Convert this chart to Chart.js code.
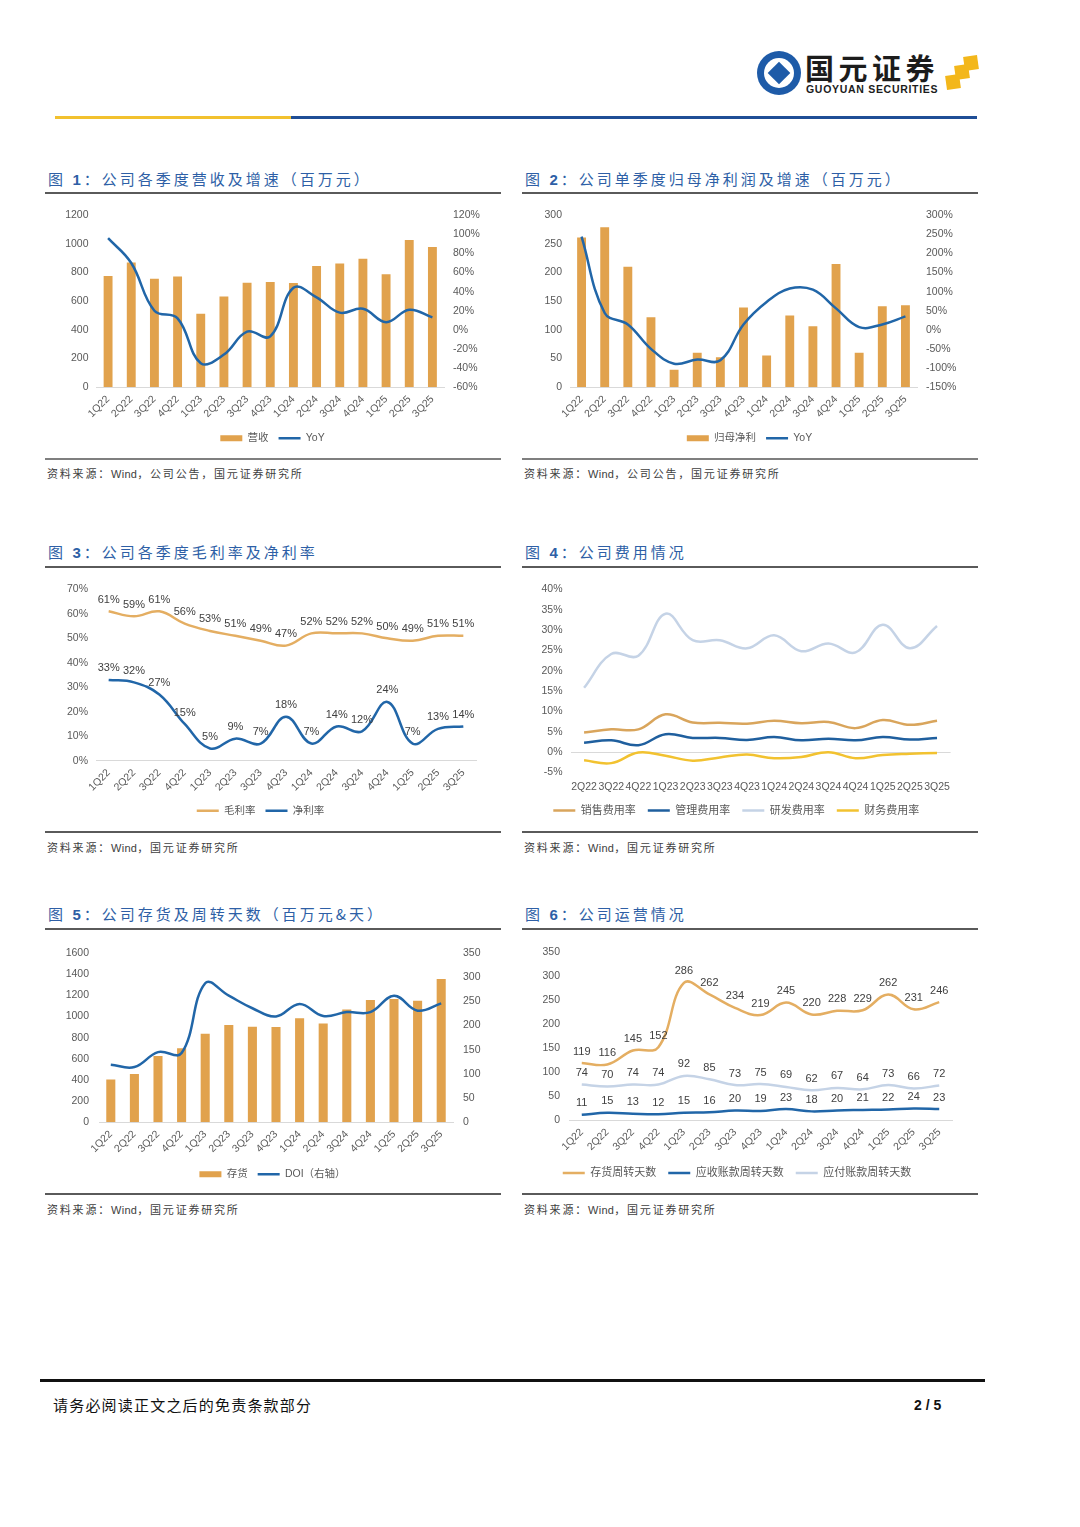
<!DOCTYPE html>
<html><head><meta charset="utf-8">
<script src="https://cdn.jsdelivr.net/npm/chart.js@4.4.1/dist/chart.umd.min.js"></script>
<style>
html,body{margin:0;padding:0;background:#fff;}
body{width:1080px;height:1527px;position:relative;overflow:hidden;font-family:"Liberation Sans","Noto Sans CJK SC",sans-serif;}
.abs{position:absolute;}
.title{position:absolute;font-family:"Noto Sans CJK SC",sans-serif;font-size:15px;color:#2E5FA6;letter-spacing:3px;white-space:nowrap;line-height:18px;}
.title b{font-family:"Liberation Sans",sans-serif;font-weight:bold;}
.rule{position:absolute;height:2px;background:#5a5a5a;}
.rule2{position:absolute;height:2px;background:#7f7f7f;}
.src{position:absolute;font-family:"Noto Sans CJK SC",sans-serif;font-size:11px;color:#404040;letter-spacing:1.8px;white-space:nowrap;line-height:14px;}
.src span{font-family:"Liberation Sans",sans-serif;letter-spacing:0.3px;}
.box{position:absolute;width:455px;height:255px;}
</style></head><body>

<!-- header logo -->
<div class="abs" style="left:757px;top:51px;width:44px;height:44px;border-radius:50%;background:#1E5BA8;"></div>
<div class="abs" style="left:764px;top:58px;width:30px;height:30px;border-radius:50%;background:#fff;"></div>
<div class="abs" style="left:771px;top:65px;width:16px;height:16px;background:#1E5BA8;transform:rotate(45deg);"></div>
<div class="abs" style="left:805px;top:50px;font-family:'Noto Sans CJK SC';font-weight:bold;font-size:29px;line-height:34px;color:#1c1c1c;letter-spacing:4.5px;white-space:nowrap;">国元证券</div>
<div class="abs" style="left:806px;top:83px;font-family:'Liberation Sans';font-weight:bold;font-size:10.5px;line-height:12px;color:#1c1c1c;letter-spacing:0.7px;white-space:nowrap;">GUOYUAN SECURITIES</div>
<div class="abs" style="left:946px;top:75px;width:14px;height:14px;background:#F3B71B;transform:rotate(-8deg);"></div>
<div class="abs" style="left:955px;top:65px;width:14px;height:14px;background:#F3B71B;transform:rotate(-8deg);"></div>
<div class="abs" style="left:964px;top:56px;width:14px;height:14px;background:#F3B71B;transform:rotate(-8deg);"></div>
<div class="abs" style="left:55px;top:116px;width:236px;height:3px;background:#F2C12E;"></div>
<div class="abs" style="left:291px;top:116px;width:686px;height:3px;background:#1F4E96;"></div>

<!-- row 1 -->
<div class="title" style="left:48px;top:170px;">图 <b>1</b>：公司各季度营收及增速（百万元）</div>
<div class="rule" style="left:45px;top:192px;width:456px;"></div>
<div class="box" style="left:45px;top:200px;"><canvas id="c1"></canvas></div>
<div class="rule2" style="left:45px;top:458px;width:456px;"></div>
<div class="src" style="left:47px;top:466px;">资料来源：<span>Wind</span>，公司公告，国元证券研究所</div>

<div class="title" style="left:525px;top:170px;">图 <b>2</b>：公司单季度归母净利润及增速（百万元）</div>
<div class="rule" style="left:522px;top:192px;width:456px;"></div>
<div class="box" style="left:522px;top:200px;"><canvas id="c2"></canvas></div>
<div class="rule2" style="left:522px;top:458px;width:456px;"></div>
<div class="src" style="left:524px;top:466px;">资料来源：<span>Wind</span>，公司公告，国元证券研究所</div>

<!-- row 2 -->
<div class="title" style="left:48px;top:543px;">图 <b>3</b>：公司各季度毛利率及净利率</div>
<div class="rule" style="left:45px;top:566px;width:456px;"></div>
<div class="box" style="left:45px;top:575px;"><canvas id="c3"></canvas></div>
<div class="rule" style="left:45px;top:831px;width:456px;"></div>
<div class="src" style="left:47px;top:840px;">资料来源：<span>Wind</span>，国元证券研究所</div>

<div class="title" style="left:525px;top:543px;">图 <b>4</b>：公司费用情况</div>
<div class="rule" style="left:522px;top:566px;width:456px;"></div>
<div class="box" style="left:522px;top:575px;"><canvas id="c4"></canvas></div>
<div class="rule" style="left:522px;top:831px;width:456px;"></div>
<div class="src" style="left:524px;top:840px;">资料来源：<span>Wind</span>，国元证券研究所</div>

<!-- row 3 -->
<div class="title" style="left:48px;top:905px;">图 <b>5</b>：公司存货及周转天数（百万元&amp;天）</div>
<div class="rule" style="left:45px;top:928px;width:456px;"></div>
<div class="box" style="left:45px;top:937px;"><canvas id="c5"></canvas></div>
<div class="rule" style="left:45px;top:1193px;width:456px;"></div>
<div class="src" style="left:47px;top:1202px;">资料来源：<span>Wind</span>，国元证券研究所</div>

<div class="title" style="left:525px;top:905px;">图 <b>6</b>：公司运营情况</div>
<div class="rule" style="left:522px;top:928px;width:456px;"></div>
<div class="box" style="left:522px;top:937px;"><canvas id="c6"></canvas></div>
<div class="rule" style="left:522px;top:1193px;width:456px;"></div>
<div class="src" style="left:524px;top:1202px;">资料来源：<span>Wind</span>，国元证券研究所</div>

<!-- footer -->
<div class="abs" style="left:40px;top:1379px;width:945px;height:3px;background:#111;"></div>
<div class="abs" style="left:53px;top:1396px;font-family:'Noto Sans CJK SC';font-size:15px;line-height:18px;color:#111;letter-spacing:1.2px;white-space:nowrap;">请务必阅读正文之后的免责条款部分</div>
<div class="abs" style="left:914px;top:1397px;font-family:'Liberation Sans';font-weight:bold;font-size:14px;line-height:16px;color:#111;white-space:nowrap;">2 / 5</div>

<script>
// ---------- data ----------
const quarters = ['1Q22','2Q22','3Q22','4Q22','1Q23','2Q23','3Q23','4Q23','1Q24','2Q24','3Q24','4Q24','1Q25','2Q25','3Q25'];
const revenue = [775, 870, 756, 772, 512, 633, 729, 733, 727, 845, 863, 897, 788, 1027, 979];
const revenueYoY = [96, 70, 20, 12, -35, -26, -2, -7, 44, 34, 18, 22, 8, 21, 13];
const netProfit = [261, 279, 210, 122, 30, 60, 52, 139, 55, 125, 106, 215, 60, 141, 143];
const netProfitYoY = [244, 44, 14, -50, -89, -78, -80, 14, 73, 108, 105, 56, 7, 14, 35];
const grossMargin = [61, 59, 61, 56, 53, 51, 49, 47, 52, 52, 52, 50, 49, 51, 51];
const netMargin = [33, 32, 27, 15, 5, 9, 7, 18, 7, 14, 12, 24, 7, 13, 14];
const expQuarters = ['2Q22','3Q22','4Q22','1Q23','2Q23','3Q23','4Q23','1Q24','2Q24','3Q24','4Q24','1Q25','2Q25','3Q25'];
const sellingRate = [4.8, 5.6, 5.6, 9.3, 7.3, 7.2, 7.0, 7.7, 7.1, 7.4, 5.9, 7.9, 6.7, 7.7];
const adminRate = [2.3, 2.9, 1.7, 4.4, 3.5, 3.5, 3.0, 3.7, 2.9, 3.3, 2.9, 3.7, 3.1, 3.5];
const rdRate = [15.8, 24.1, 23.7, 34.0, 27.5, 27.5, 25.5, 28.7, 24.8, 26.7, 24.5, 31.3, 25.5, 31.0];
const financeRate = [-2.0, -2.7, -0.1, -0.9, -2.1, -1.3, -0.6, -1.5, -1.2, 0.0, -1.5, -0.7, -0.4, -0.2];
const inventory = [403, 455, 626, 699, 837, 919, 904, 901, 983, 934, 1066, 1157, 1166, 1151, 1356];
const doiDays = [119, 114, 145, 143, 288, 262, 236, 219, 245, 220, 228, 228, 262, 231, 246];
const inventoryDays = [119, 116, 145, 152, 286, 262, 234, 219, 245, 220, 228, 229, 262, 231, 246];
const receivableDays = [11, 15, 13, 12, 15, 16, 20, 19, 23, 18, 20, 21, 22, 24, 23];
const payableDays = [74, 70, 74, 74, 92, 85, 73, 75, 69, 62, 67, 64, 73, 66, 72];

// ---------- style ----------
const GOLD = '#E1A24D', BLUE = '#2166A8', LGOLD = '#E4AE62', LBLUE = '#C5D3E6', YEL = '#F2C230', DBLUE = '#1F5F9E';
Chart.defaults.font.family = '"Liberation Sans","Noto Sans CJK SC",sans-serif';
Chart.defaults.font.size = 10.5;
Chart.defaults.color = '#595959';
Chart.defaults.animation = false;

const pointLabels = {
  id: 'pointLabels',
  afterDatasetsDraw(chart) {
    const ctx = chart.ctx;
    ctx.save();
    ctx.font = '11px "Liberation Sans", sans-serif';
    ctx.fillStyle = '#404040';
    ctx.textAlign = 'center';
    ctx.textBaseline = 'bottom';
    chart.data.datasets.forEach((ds, di) => {
      if (!ds.showLabels) return;
      const meta = chart.getDatasetMeta(di);
      meta.data.forEach((pt, i) => {
        ctx.fillText(ds.data[i] + (ds.labelSuffix || ''), pt.x, pt.y - 6);
      });
    });
    ctx.restore();
  }
};

function w(n) { return s => { s.width = n; }; }
function h(n) { return s => { s.height = n; }; }
const legendOpts = (size) => ({
  position: 'bottom',
  labels: { usePointStyle: true, pointStyleWidth: 22, boxHeight: 6, padding: size ? 12 : 10, color: '#595959',
            font: { size: size || 10.5 }, sort: (a, b) => a.datasetIndex - b.datasetIndex }
});
function xRot(height) {
  return { grid: { display: false, drawTicks: false }, border: { display: true, color: '#d9d9d9' },
           ticks: { minRotation: 45, maxRotation: 45, autoSkip: false, padding: 6 }, afterFit: h(height) };
}
function lineDs(label, data, color, extra) {
  return Object.assign({ type: 'line', label, data, borderColor: color, backgroundColor: color, borderWidth: 2.5,
    pointRadius: 0, tension: 0.4, pointStyle: 'line', order: 0 }, extra || {});
}
function barDs(label, data, extra) {
  return Object.assign({ type: 'bar', label, data, backgroundColor: GOLD, pointStyle: 'rect',
    categoryPercentage: 0.8, barPercentage: 0.48, order: 1 }, extra || {});
}
const pct = v => v + '%';
const plain = v => String(v);

// Chart 1
new Chart(document.getElementById('c1'), {
  data: { labels: quarters, datasets: [ barDs('营收', revenue, { yAxisID: 'y' }), lineDs('YoY', revenueYoY, BLUE, { yAxisID: 'y1' }) ] },
  options: { responsive: true, maintainAspectRatio: false,
    layout: { padding: { top: 12, bottom: 1.5, left: 0, right: 0 } },
    plugins: { legend: legendOpts(), tooltip: { enabled: false } },
    scales: {
      x: xRot(36),
      y: { position: 'left', min: 0, max: 1200, ticks: { stepSize: 200, padding: 8, callback: plain }, grid: { display: false, drawTicks: false }, border: { display: false }, afterFit: w(51.5) },
      y1: { position: 'right', min: -60, max: 120, ticks: { stepSize: 20, padding: 9, callback: pct }, grid: { display: false, drawTicks: false }, border: { display: false }, afterFit: w(56) }
    } }
});

// Chart 2
new Chart(document.getElementById('c2'), {
  data: { labels: quarters, datasets: [ barDs('归母净利', netProfit, { yAxisID: 'y' }), lineDs('YoY', netProfitYoY, BLUE, { yAxisID: 'y1' }) ] },
  options: { responsive: true, maintainAspectRatio: false,
    layout: { padding: { top: 12, bottom: 1.5, left: 0, right: 0 } },
    plugins: { legend: legendOpts(), tooltip: { enabled: false } },
    scales: {
      x: xRot(36),
      y: { position: 'left', min: 0, max: 300, ticks: { stepSize: 50, padding: 8, callback: plain }, grid: { display: false, drawTicks: false }, border: { display: false }, afterFit: w(48) },
      y1: { position: 'right', min: -150, max: 300, ticks: { stepSize: 50, padding: 9, callback: pct }, grid: { display: false, drawTicks: false }, border: { display: false }, afterFit: w(60) }
    } }
});

// Chart 3
new Chart(document.getElementById('c3'), {
  type: 'line',
  data: { labels: quarters, datasets: [
    lineDs('毛利率', grossMargin, LGOLD, { showLabels: true, labelSuffix: '%' }),
    lineDs('净利率', netMargin, BLUE, { showLabels: true, labelSuffix: '%' }) ] },
  options: { responsive: true, maintainAspectRatio: false,
    layout: { padding: { top: 10, bottom: 4, left: 0, right: 24 } },
    plugins: { legend: legendOpts(), tooltip: { enabled: false } },
    scales: {
      x: Object.assign(xRot(34.8), { offset: true }),
      y: { min: 0, max: 70, ticks: { stepSize: 10, padding: 8, callback: pct }, grid: { display: false, drawTicks: false }, border: { display: false }, afterFit: w(51) }
    } },
  plugins: [pointLabels]
});

// Chart 4
new Chart(document.getElementById('c4'), {
  type: 'line',
  data: { labels: expQuarters, datasets: [
    lineDs('销售费用率', sellingRate, '#D9A55C'),
    lineDs('管理费用率', adminRate, DBLUE),
    lineDs('研发费用率', rdRate, LBLUE),
    lineDs('财务费用率', financeRate, YEL) ] },
  options: { responsive: true, maintainAspectRatio: false,
    layout: { padding: { top: 10, bottom: 4, left: 0, right: 26.4 } },
    plugins: { legend: legendOpts(11), tooltip: { enabled: false } },
    scales: {
      x: { offset: true, grid: { display: false, drawTicks: false }, border: { display: false },
           ticks: { maxRotation: 0, minRotation: 0, autoSkip: false, padding: 8 }, afterFit: h(20.5) },
      y: { min: -5, max: 40, ticks: { stepSize: 5, padding: 8, callback: pct },
           grid: { drawTicks: false, color: c => c.tick && c.tick.value === 0 ? '#d9d9d9' : 'rgba(0,0,0,0)' },
           border: { display: false }, afterFit: w(48.5) }
    } }
});

// Chart 5
new Chart(document.getElementById('c5'), {
  data: { labels: quarters, datasets: [ barDs('存货', inventory, { yAxisID: 'y' }), lineDs('DOI（右轴）', doiDays, BLUE, { yAxisID: 'y1' }) ] },
  options: { responsive: true, maintainAspectRatio: false,
    layout: { padding: { top: 10.7, bottom: 2.5, left: 0, right: 0 } },
    plugins: { legend: legendOpts(), tooltip: { enabled: false } },
    scales: {
      x: xRot(37),
      y: { position: 'left', min: 0, max: 1600, ticks: { stepSize: 200, padding: 10, callback: plain }, grid: { display: false, drawTicks: false }, border: { display: false }, afterFit: w(54) },
      y1: { position: 'right', min: 0, max: 350, ticks: { stepSize: 50, padding: 10, callback: plain }, grid: { display: false, drawTicks: false }, border: { display: false }, afterFit: w(47) }
    } }
});

// Chart 6
new Chart(document.getElementById('c6'), {
  type: 'line',
  data: { labels: quarters, datasets: [
    lineDs('存货周转天数', inventoryDays, LGOLD, { showLabels: true }),
    lineDs('应收账款周转天数', receivableDays, BLUE, { showLabels: true }),
    lineDs('应付账款周转天数', payableDays, LBLUE, { showLabels: true }) ] },
  options: { responsive: true, maintainAspectRatio: false,
    layout: { padding: { top: 10.7, bottom: 3.5, left: 0, right: 25 } },
    plugins: { legend: legendOpts(11), tooltip: { enabled: false } },
    scales: {
      x: Object.assign(xRot(35.5), { offset: true }),
      y: { min: 0, max: 350, ticks: { stepSize: 50, padding: 9, callback: plain }, grid: { display: false, drawTicks: false }, border: { display: false }, afterFit: w(47) }
    } },
  plugins: [pointLabels]
});
</script>
</body></html>
